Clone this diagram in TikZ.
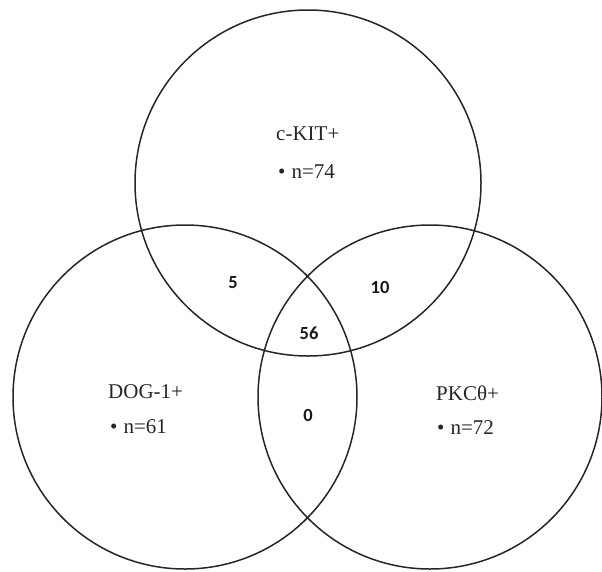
\documentclass[tikz,border=0pt]{standalone}
\usepackage{fontspec}
\setmainfont{Liberation Serif}
\newfontfamily\numfont{Carlito}
\begin{document}
\begin{tikzpicture}[x=1pt,y=-1pt,line join=round,line cap=round]
				\tikzset{ring/.style={line width=1.5pt,draw=black!85},
					setname/.style={anchor=base west,inner sep=0pt,text=black!85,font=\fontsize{21}{24}\selectfont},
					count/.style={inner sep=0pt,text=black!90,font=\numfont\bfseries\fontsize{18.5}{20}\selectfont}}
				\useasboundingbox (0,0) rectangle (602,571);
				% centres of the three sets
				\coordinate (kit) at (308,183);
				\coordinate (dog) at (185,397);
				\coordinate (pkc) at (430,397);
				\draw[ring] (kit) circle (173);
				\draw[ring] (dog) circle (172);
				\draw[ring] (pkc) circle (172);
				% set names
				\node[setname] (kitname) at (276,140) {c-KIT+};
				\node[setname] (kitn) at (278,178) {\textbullet\hspace{6pt}n=74};
				\node[setname] (dogname) at (108,398) {DOG-1+};
				\node[setname] (dogn) at (110,433) {\textbullet\hspace{6pt}n=61};
				\node[setname] (pkcname) at (436,400) {PKCθ+};
				\node[setname] (pkcn) at (437,434) {\textbullet\hspace{6pt}n=72};
				% overlaps
				\node[count] (kitdog) at (233,283) {5};
				\node[count] (kitpkc) at (380,287) {10};
				\node[count] (all) at (309,333) {56};
				\node[count] (dogpkc) at (308,415) {0};
			\end{tikzpicture}
\end{document}
